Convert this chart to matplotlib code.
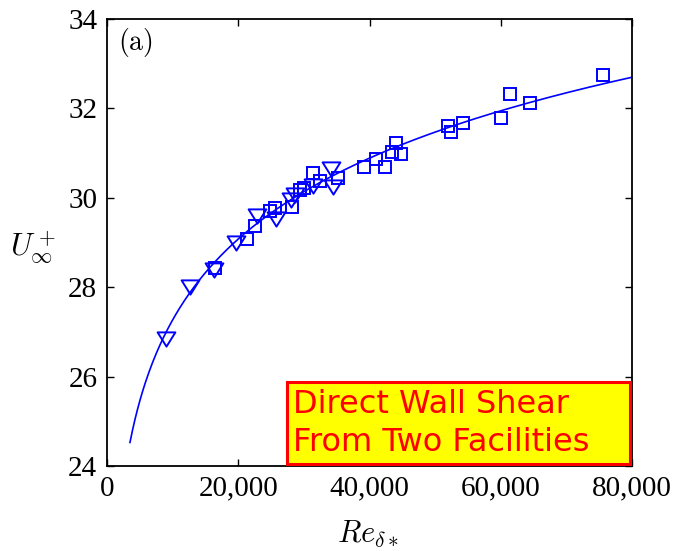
import numpy as np
import matplotlib
matplotlib.use("Agg")
import matplotlib.pyplot as plt
from matplotlib.path import Path
from matplotlib.patches import Rectangle

# Facility 1 (triangles): Re_delta* and U_inf^+
re_tri = [9000, 12600, 16300, 19600, 22800, 25800, 28100, 28600, 31400, 34200, 34500]
u_tri = [26.85, 28.00, 28.38, 29.00, 29.60, 29.52, 29.95, 30.06, 30.27, 30.65, 30.25]

# Facility 2 (squares)
re_sq = [16400, 21300, 22500, 24800, 25600, 28200, 29400, 30000, 31400, 32500,
         35200, 39100, 41000, 42400, 43400, 44100, 44800, 52000, 52400, 54200,
         60100, 61400, 64500, 75600]
u_sq = [28.44, 29.08, 29.38, 29.70, 29.78, 29.80, 30.18, 30.22, 30.55, 30.38,
        30.44, 30.70, 30.86, 30.68, 31.03, 31.22, 30.98, 31.60, 31.48, 31.67,
        31.78, 32.32, 32.13, 32.75]

# Log-law fit U_inf^+ = (1/kappa) ln(Re_delta*) + C
kappa = 0.383
C_fit = 3.22
re_fit_range = (3500, 80000)

x_ticks = [0, 20000, 40000, 60000, 80000]
x_ticklabels = ["0", "20,000", "40,000", "60,000", "80,000"]
y_ticks = [24, 26, 28, 30, 32, 34]
y_ticklabels = ["24", "26", "28", "30", "32", "34"]

note_lines = ["Direct Wall Shear", "From Two Facilities"]

plt.rcParams["mathtext.fontset"] = "cm"

fig = plt.figure(figsize=(6.78, 5.51), dpi=100)
ax = fig.add_axes([107 / 678, 85 / 551, 525 / 678, 447 / 551])

blue = "#0000ff"

re_fit = np.linspace(re_fit_range[0], re_fit_range[1], 400)
u_fit = np.log(re_fit) / kappa + C_fit
ax.plot(re_fit, u_fit, color=blue, lw=1.2, zorder=2)

# wide, flat downward triangle
tri_path = Path([(-1.0, 0.8), (1.0, 0.8), (0.0, -0.8), (-1.0, 0.8)],
                [Path.MOVETO, Path.LINETO, Path.LINETO, Path.CLOSEPOLY])

ax.plot(re_sq, u_sq, ls="none", marker="s", ms=8.8, mfc="none", mec=blue,
        mew=1.4, zorder=3)
ax.plot(re_tri, u_tri, ls="none", marker=tri_path, ms=12.8, mfc="none", mec=blue,
        mew=1.4, zorder=3)

ax.set_xlim(0, 80000)
ax.set_ylim(24, 34)
ax.set_xticks(x_ticks)
ax.set_xticklabels(x_ticklabels)
ax.set_yticks(y_ticks)
ax.set_yticklabels(y_ticklabels)

for s in ax.spines.values():
    s.set_linewidth(1.3)

ax.tick_params(direction="in", length=5, width=1.0, top=True, right=True,
               labelsize=21, pad=7)
for lab in ax.get_xticklabels() + ax.get_yticklabels():
    lab.set_fontfamily("Liberation Serif")

ax.set_xlabel(r"$Re_{\delta*}$", fontsize=22, va="center")
ax.xaxis.set_label_coords(0.497, -0.153)
ax.set_ylabel(r"$U_\infty^+$", fontsize=22, rotation=0, ha="center", va="center")
ax.yaxis.set_label_coords(-0.141, 0.488)

ax.text(0.021, 0.948, r"$\mathrm{(a)}$", transform=ax.transAxes, fontsize=20,
        ha="left", va="center")

# yellow annotation box in the lower right corner
ax.add_patch(Rectangle((0.343, 0.0045), 0.653, 0.1835, transform=ax.transAxes,
                       fc="yellow", ec="red", lw=2.2, zorder=4))
ax.text(0.354, 0.118, note_lines[0], transform=ax.transAxes, color="red",
        fontsize=23, family="DejaVu Sans", ha="left", va="baseline", zorder=5)
ax.text(0.354, 0.034, note_lines[1], transform=ax.transAxes, color="red",
        fontsize=23, family="DejaVu Sans", ha="left", va="baseline", zorder=5)

fig.savefig("out.png", dpi=100)
